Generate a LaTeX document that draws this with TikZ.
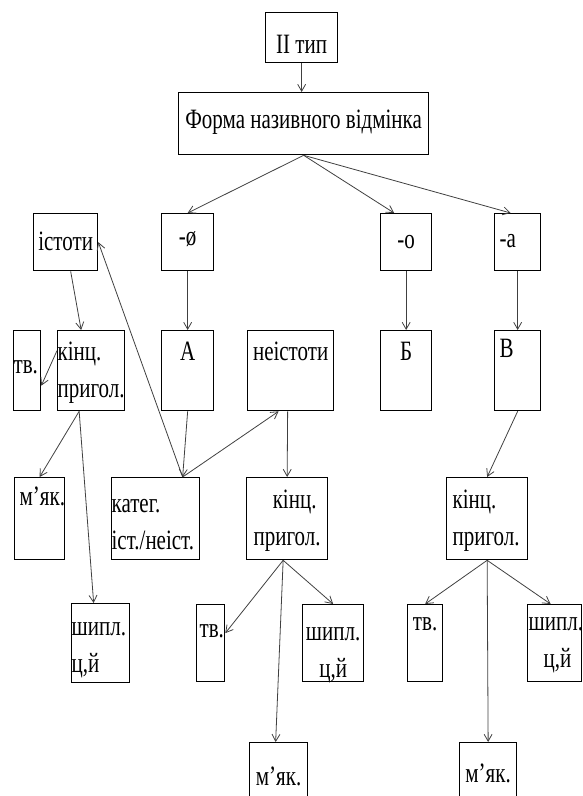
\documentclass[tikz,border=0pt]{standalone}
\usepackage{fontspec}
\setmainfont{Liberation Serif}[FakeStretch=0.75]
\usetikzlibrary{arrows.meta}

% клітинка: ширина, висота, відступ до першого рядка, текст
\newcommand{\kl}[4]{\parbox[c][#2pt][t]{#1pt}{\rule{0pt}{#3pt}#4}}

\begin{document}
\begin{tikzpicture}[x=1pt,y=-1pt,
    klitka/.style={draw, line width=1.3pt, inner sep=0pt, anchor=north west,
        font=\fontsize{28}{37}\selectfont},
    strilka/.style={-{Straight Barb[length=7pt,width=8pt]}, line width=0.8pt, black!75}]
                % межі рисунка
                \useasboundingbox (0,0) rectangle (582,796);

                % верхній рівень
                \node[klitka] (tip) at (265,12) {\kl{72}{50}{41}{\centering II тип}};
                \node[klitka] (forma) at (178,92) {\kl{250}{62}{36}{\centering Форма називного відмінка}};

                % закінчення
                \node[klitka] (istoty) at (33,213) {\kl{64}{57}{37}{\centering істоти}};
                \node[klitka] (nul) at (161,213) {\kl{52}{57}{32}{\centering -ø}};
                \node[klitka] (okin) at (380,213) {\kl{51}{57}{35}{\centering -о}};
                \node[klitka] (akin) at (494,213) {\kl{46}{57}{34}{\hspace*{5pt}-а}};

                % другий ряд
                \node[klitka] (tv1) at (13,330) {\kl{27}{80}{43}{тв.}};
                \node[klitka] (kinc1) at (57,330) {\kl{67}{80}{30}{кінц.\\пригол.}};
                \node[klitka] (grA) at (161,330) {\kl{52}{80}{30}{\centering А}};
                \node[klitka] (neistoty) at (247,330) {\kl{86}{80}{30}{\centering неістоти}};
                \node[klitka] (grB) at (380,330) {\kl{51}{80}{30}{\centering Б}};
                \node[klitka] (grV) at (494,330) {\kl{46}{80}{27}{\hspace*{5pt}В}};

                % третій ряд
                \node[klitka] (mjak1) at (14,477) {\kl{50}{82}{28}{\hspace*{5pt}м’як.}};
                \node[klitka] (kateg) at (111,477) {\kl{88}{82}{35}{катег.\\іст./неіст.}};
                \node[klitka] (kinc2) at (246,477) {\kl{81}{82}{31}{\centering\hspace*{15pt}кінц.\\пригол.}};
                \node[klitka] (kinc3) at (446,477) {\kl{81}{82}{31}{\hspace*{6pt}кінц.\\\hspace*{6pt}пригол.}};

                % четвертий ряд
                \node[klitka] (shypl1) at (71,603) {\kl{58}{79}{32}{шипл.\\ц,й}};
                \node[klitka] (tv2) at (196,604) {\kl{28}{77}{33}{\hspace*{3pt}тв.}};
                \node[klitka] (shypl2) at (302,604) {\kl{61}{77}{36}{\centering шипл.\\ц,й}};
                \node[klitka] (tv3) at (407,604) {\kl{35}{77}{26}{\centering тв.}};
                \node[klitka] (shypl3) at (527,604) {\kl{54}{77}{26}{\hspace*{1pt}шипл.\\\hspace*{16pt}ц,й}};

                % нижній ряд
                \node[klitka] (mjak2) at (249,742) {\kl{58}{70}{43}{\centering м’як.}};
                \node[klitka] (mjak3) at (459,742) {\kl{57}{70}{40}{\centering м’як.}};

                % точка збігу стрілок над категорією
                \coordinate (kt) at ([xshift=27pt]kateg.north);

                % стрілки зверху вниз
                \draw[strilka] (tip.south) -- (tip.south |- forma.north);
                \draw[strilka] (forma.south) -- (nul.north);
                \draw[strilka] (forma.south) -- ([xshift=-12pt]okin.north);
                \draw[strilka] (forma.south) -- ([xshift=-7pt]akin.north);
                \draw[strilka] (nul.south) -- (grA.north);
                \draw[strilka] (okin.south) -- (grB.north);
                \draw[strilka] (akin.south) -- (grV.north);

                % ліва гілка
                \draw[strilka] ([xshift=5pt]istoty.south) -- ([xshift=-10pt]kinc1.north);
                \draw[strilka] ([yshift=20pt]kinc1.west) -- ([yshift=-15pt]tv1.east);
                \draw[strilka] ([xshift=-12pt]kinc1.south) -- (mjak1.north);
                \draw[strilka] ([xshift=-12pt]kinc1.south) -- ([xshift=-7pt]shypl1.north);

                % категорія істоти / неістоти
                \draw[strilka] (grA.south) -- (kt);
                \draw[strilka] (kt) -- (istoty.east);
                \draw[strilka] (kt) -- ([xshift=-12pt]neistoty.south);
                \draw[strilka] ([xshift=-3pt]neistoty.south) -- (kinc2.north);

                % середня гілка
                \draw[strilka] ([xshift=-4pt]kinc2.south) -- ([yshift=10pt]tv2.east);
                \draw[strilka] ([xshift=-4pt]kinc2.south) -- (shypl2.north);
                \draw[strilka] ([xshift=-4pt]kinc2.south) -- ([xshift=-3pt]mjak2.north);

                % права гілка
                \draw[strilka] (grV.south) -- (kinc3.north);
                \draw[strilka] (kinc3.south) -- (tv3.north);
                \draw[strilka] (kinc3.south) -- ([xshift=-4pt]shypl3.north);
                \draw[strilka] (kinc3.south) -- (mjak3.north);
            \end{tikzpicture}
\end{document}
